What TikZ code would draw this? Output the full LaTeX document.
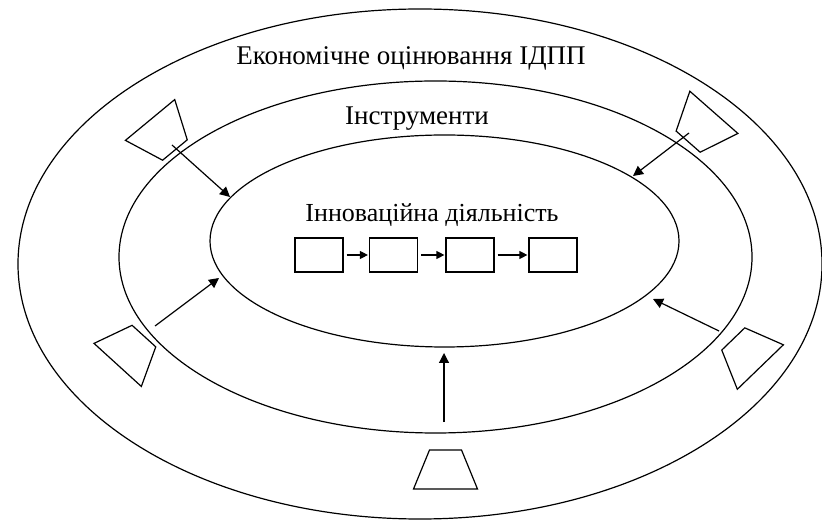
\documentclass[tikz,border=0pt]{standalone}
\usepackage{fontspec}
\setmainfont{Liberation Serif}
\usetikzlibrary{shapes.geometric,arrows.meta}
\tikzset{
every picture/.style={line width=0.6pt},
ring/.style={ellipse, draw, inner sep=0pt},
pics/tool/.style={code={\draw (-8pt,9.75pt) -- (8pt,9.75pt) -- (16pt,-9.75pt) -- (-16pt,-9.75pt) -- cycle;}},
stage/.style={draw, minimum width=24pt, minimum height=17pt, inner sep=0pt},
title/.style={anchor=base, font=\fontsize{13.5}{16}\selectfont}
}

\begin{document}
\begin{tikzpicture}[x=0.5pt,y=-0.5pt,>={Triangle[length=5pt,width=5pt]}]
      \useasboundingbox (0,0) rectangle (822,522);
      \node[ring, minimum width=402pt, minimum height=255pt] (outer) at (420,264) {};
      \node[ring, minimum width=316.5pt, minimum height=176pt] (middle) at (435.5,257) {};
      \node[ring, minimum width=234.5pt, minimum height=106pt] (inner) at (444.5,241) {};
      \node[title] (econ) at (411,65) {Економічне оцінювання ІДПП};
      \node[title] (instr) at (417,125) {Інструменти};
      \node[title, font=\fontsize{13}{16}\selectfont] (innov) at (432,222) {Інноваційна діяльність};
      \pic[rotate=-140.4] (t1) at (162.5,135) {tool};
      \pic[rotate=138.7] (t2) at (701,127) {tool};
      \pic[rotate=-42.3] (t3) at (130.8,350.5) {tool};
      \pic[rotate=44] (t4) at (746.8,353) {tool};
      \pic (t5) at (445.5,469.5) {tool};
      \coordinate (from1) at (172,145);
      \coordinate (to1) at (230,197);
      \coordinate (from2) at (689,133);
      \coordinate (to2) at (633,176);
      \coordinate (from3) at (155,326);
      \coordinate (to3) at (219,278);
      \coordinate (from4) at (719,331);
      \coordinate (to4) at (653,299);
      \coordinate (from5) at (444,422);
      \coordinate (to5) at (444,353);
      \foreach \i in {1,...,5}
        \draw[->] (from\i) -- (to\i);
      \node[stage] (s1) at (319,255) {};
      \node[stage] (s2) at (393.5,255) {};
      \node[stage] (s3) at (470,255) {};
      \node[stage] (s4) at (553,255) {};
      \foreach \a/\b in {s1/s2,s2/s3,s3/s4}
        \draw[->, >={Triangle[length=4pt,width=4pt]}, shorten <=1.5pt, shorten >=0.5pt] (\a) -- (\b);
    \end{tikzpicture}
\end{document}
